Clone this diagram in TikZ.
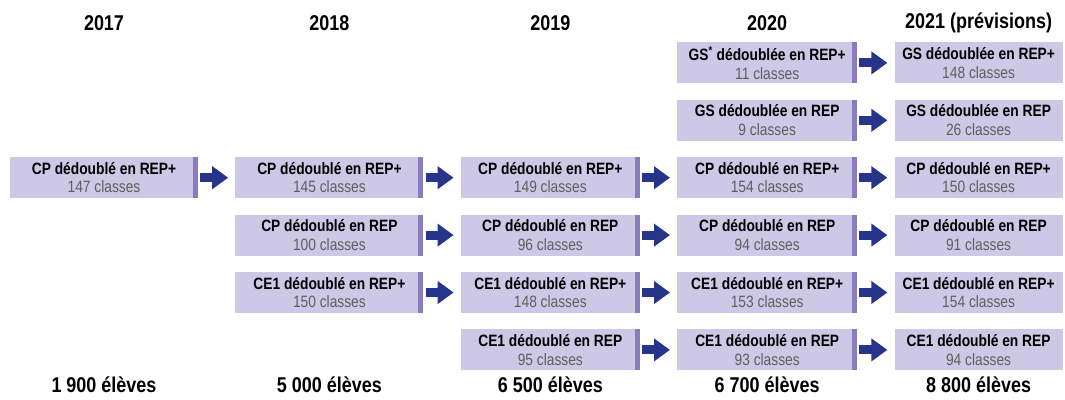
\documentclass[tikz,border=0pt]{standalone}
\usepackage{fontspec}
\setmainfont{Liberation Sans}
\newfontfamily\condfont[FakeStretch=0.84]{Liberation Sans}
\usepackage{tikz}
\usetikzlibrary{positioning, arrows.meta}

\definecolor{boxfill}{RGB}{204,200,229}
\definecolor{barcol}{RGB}{137,125,189}
\definecolor{arrowcol}{RGB}{38,52,138}
\definecolor{classgray}{RGB}{95,95,95}

\newcommand\boxtext[2]{{\bfseries #1}\\{\color{classgray}#2 classes}}

\begin{document}
\begin{tikzpicture}[x=1pt, y=-1pt, node distance=16pt and 37pt,
  lastbox/.style={rectangle, fill=boxfill, inner sep=0pt, align=center,
    minimum width=#1, minimum height=41pt,
    font=\condfont\fontsize{16.4}{18.5}\selectfont},
  classbox/.style={lastbox=#1,
    path picture={\fill[barcol] ([xshift=-5pt]path picture bounding box.north east)
      rectangle (path picture bounding box.south east);}},
  yearlabel/.style={font=\condfont\bfseries\fontsize{21.4}{23}\selectfont},
  flow/.style={draw=arrowcol, line width=9pt, shorten <=2pt, shorten >=7pt,
    -{Triangle[length=16pt, width=22pt]}}]

\useasboundingbox (0,0) rectangle (1065,399);

% 2017
\node[classbox=188pt] (c1r3) at (104,177.7) {\boxtext{CP dédoublé en REP+}{147}};

% 2018
\node[classbox=188pt] (c2r3) [right=of c1r3] {\boxtext{CP dédoublé en REP+}{145}};
\node[classbox=188pt] (c2r4) [below=of c2r3] {\boxtext{CP dédoublé en REP}{100}};
\node[classbox=188pt] (c2r5) [below=of c2r4] {\boxtext{CE1 dédoublé en REP+}{150}};

% 2019
\node[classbox=179pt] (c3r3) [right=of c2r3] {\boxtext{CP dédoublé en REP+}{149}};
\node[classbox=179pt] (c3r4) [right=of c2r4] {\boxtext{CP dédoublé en REP}{96}};
\node[classbox=179pt] (c3r5) [right=of c2r5] {\boxtext{CE1 dédoublé en REP+}{148}};
\node[classbox=179pt] (c3r6) [below=of c3r5] {\boxtext{CE1 dédoublé en REP}{95}};

% 2020
\node[classbox=180pt] (c4r3) [right=of c3r3] {\boxtext{CP dédoublé en REP+}{154}};
\node[classbox=180pt] (c4r2) [above=of c4r3] {\boxtext{GS dédoublée en REP}{9}};
\node[classbox=180pt] (c4r1) [above=of c4r2] {\boxtext{GS\textsuperscript{*} dédoublée en REP+}{11}};
\node[classbox=180pt] (c4r4) [right=of c3r4] {\boxtext{CP dédoublé en REP}{94}};
\node[classbox=180pt] (c4r5) [right=of c3r5] {\boxtext{CE1 dédoublé en REP+}{153}};
\node[classbox=180pt] (c4r6) [right=of c3r6] {\boxtext{CE1 dédoublé en REP}{93}};

% 2021
\node[lastbox=168pt] (c5r1) [right=of c4r1] {\boxtext{GS dédoublée en REP+}{148}};
\node[lastbox=168pt] (c5r2) [right=of c4r2] {\boxtext{GS dédoublée en REP}{26}};
\node[lastbox=168pt] (c5r3) [right=of c4r3] {\boxtext{CP dédoublé en REP+}{150}};
\node[lastbox=168pt] (c5r4) [right=of c4r4] {\boxtext{CP dédoublé en REP}{91}};
\node[lastbox=168pt] (c5r5) [right=of c4r5] {\boxtext{CE1 dédoublé en REP+}{154}};
\node[lastbox=168pt] (c5r6) [right=of c4r6] {\boxtext{CE1 dédoublé en REP}{94}};

% arrows
\foreach \a/\b in {c1r3/c2r3, c2r3/c3r3, c3r3/c4r3, c4r3/c5r3,
  c2r4/c3r4, c3r4/c4r4, c4r4/c5r4, c2r5/c3r5, c3r5/c4r5, c4r5/c5r5,
  c3r6/c4r6, c4r6/c5r6, c4r1/c5r1, c4r2/c5r2}
  \draw[flow] (\a) -- (\b);

% years and totals
\coordinate (top) at (0,23);
\coordinate (bottom) at (0,385);
\node[yearlabel] (y1) at (c1r3 |- top) {2017};
\node[yearlabel] (y2) at (c2r3 |- top) {2018};
\node[yearlabel] (y3) at (c3r3 |- top) {2019};
\node[yearlabel] (y4) at (c4r3 |- top) {2020};
\node[yearlabel] (y5) at (c5r3 |- top) {2021 (prévisions)};
\node[yearlabel] (t1) at (c1r3 |- bottom) {1 900 élèves};
\node[yearlabel] (t2) at (c2r3 |- bottom) {5 000 élèves};
\node[yearlabel] (t3) at (c3r3 |- bottom) {6 500 élèves};
\node[yearlabel] (t4) at (c4r3 |- bottom) {6 700 élèves};
\node[yearlabel] (t5) at (c5r3 |- bottom) {8 800 élèves};
\end{tikzpicture}
\end{document}
